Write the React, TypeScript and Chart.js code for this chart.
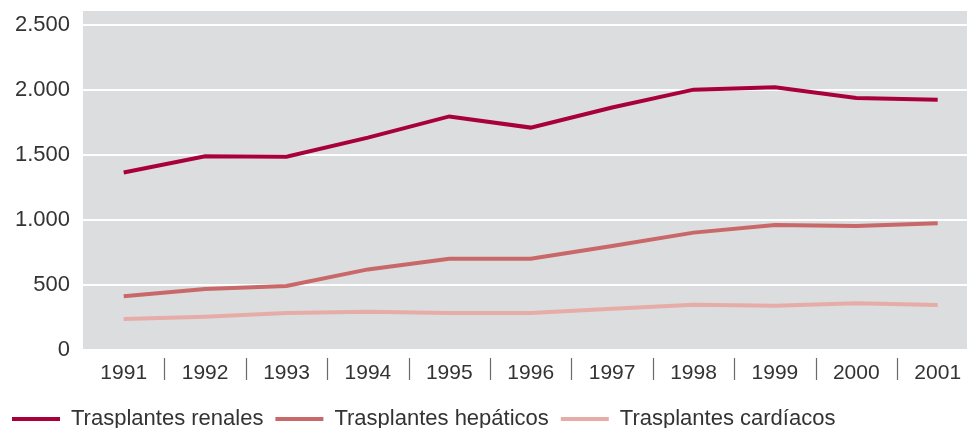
import React, { useEffect, useRef } from "react";
import { Chart, registerables } from "chart.js";

Chart.register(...registerables);

const years = [1991, 1992, 1993, 1994, 1995, 1996, 1997, 1998, 1999, 2000, 2001];
const renales = [1366, 1490, 1487, 1634, 1797, 1711, 1866, 2003, 2021, 1938, 1926];
const hepaticos = [413, 470, 493, 620, 702, 702, 800, 903, 962, 954, 975];
const cardiacos = [238, 256, 284, 295, 284, 284, 318, 349, 341, 359, 346];
const yTicks = [0, 500, 1000, 1500, 2000, 2500];
const seriesNames = ["Trasplantes renales", "Trasplantes hepáticos", "Trasplantes cardíacos"];
const seriesColors = ["#a8003a", "#c96868", "#e6aca8"];

const toPoints = (vals: number[]) => years.map((y, i) => ({ x: y, y: vals[i] }));

const bgPlugin = {
  id: "bgPlugin",
  beforeDraw(chart: any) {
    const { ctx, chartArea } = chart;
    ctx.save();
    ctx.fillStyle = "#dcdddf";
    ctx.fillRect(chartArea.left, chartArea.top, chartArea.right - chartArea.left, chartArea.bottom - chartArea.top);
    ctx.restore();
  },
  afterDraw(chart: any) {
    const { ctx, chartArea, scales } = chart;
    const xs = scales.x;
    ctx.save();
    ctx.strokeStyle = "#6a6a6a";
    ctx.lineWidth = 1.2;
    for (let i = 0; i < years.length - 1; i++) {
      const px = Math.round(xs.getPixelForValue(years[i] + 0.5)) + 0.5;
      ctx.beginPath();
      ctx.moveTo(px, chartArea.bottom + 8);
      ctx.lineTo(px, chartArea.bottom + 30);
      ctx.stroke();
    }
    ctx.restore();
  },
};

export default function App() {
  const ref = useRef<HTMLCanvasElement | null>(null);
  useEffect(() => {
    if (!ref.current) return;
    const data = [renales, hepaticos, cardiacos];
    const chart = new Chart(ref.current, {
      type: "line",
      data: {
        datasets: data.map((vals, i) => ({
          label: seriesNames[i],
          data: toPoints(vals),
          borderColor: seriesColors[i],
          backgroundColor: seriesColors[i],
          borderWidth: 4,
          pointRadius: 0,
          tension: 0,
          fill: false,
          pointStyle: "line" as const,
        })),
      },
      options: {
        animation: false,
        responsive: true,
        maintainAspectRatio: false,
        layout: { padding: { left: 0, top: 11, right: 0, bottom: 0 } },
        plugins: {
          tooltip: { enabled: false },
          legend: {
            position: "bottom",
            align: "start",
            labels: {
              usePointStyle: true,
              pointStyle: "line",
              pointStyleWidth: 48,
              boxHeight: 5,
              padding: 12,
              color: "#333333",
              font: { family: "'Liberation Sans', Arial, sans-serif", size: 22 },
            },
          },
        },
        scales: {
          x: {
            type: "linear",
            min: 1990.5,
            max: 2001.36,
            afterBuildTicks: (axis: any) => {
              axis.ticks = years.map((v) => ({ value: v }));
            },
            afterFit: (axis: any) => {
              axis.paddingLeft = 0;
              axis.paddingRight = 0;
            },
            grid: { display: false, drawTicks: false },
            border: { display: false },
            ticks: {
              padding: 1,
              autoSkip: false,
              maxRotation: 0,
              color: "#333333",
              font: { family: "'Liberation Sans', Arial, sans-serif", size: 21, lineHeight: 44 / 21 },
              callback: (v: any) => String(v),
            },
          },
          y: {
            min: 0,
            max: 2608,
            afterBuildTicks: (axis: any) => {
              axis.ticks = yTicks.map((v) => ({ value: v }));
            },
            afterFit: (axis: any) => {
              axis.width = 83;
              axis.paddingTop = 0;
              axis.paddingBottom = 0;
            },
            grid: { color: "#ffffff", lineWidth: 2, drawTicks: false },
            border: { display: false },
            ticks: {
              padding: 13,
              color: "#333333",
              font: { family: "'Liberation Sans', Arial, sans-serif", size: 22 },
              callback: (v: any) => Number(v).toLocaleString("de-DE"),
            },
          },
        },
      },
      plugins: [bgPlugin],
    });
    return () => chart.destroy();
  }, []);
  return (
    <div style={{ position: "absolute", left: 0, top: 0, width: 967, height: 428, overflow: "hidden" }}>
      <div style={{ position: "relative", width: 967, height: 440 }}>
        <canvas ref={ref} />
      </div>
    </div>
  );
}
